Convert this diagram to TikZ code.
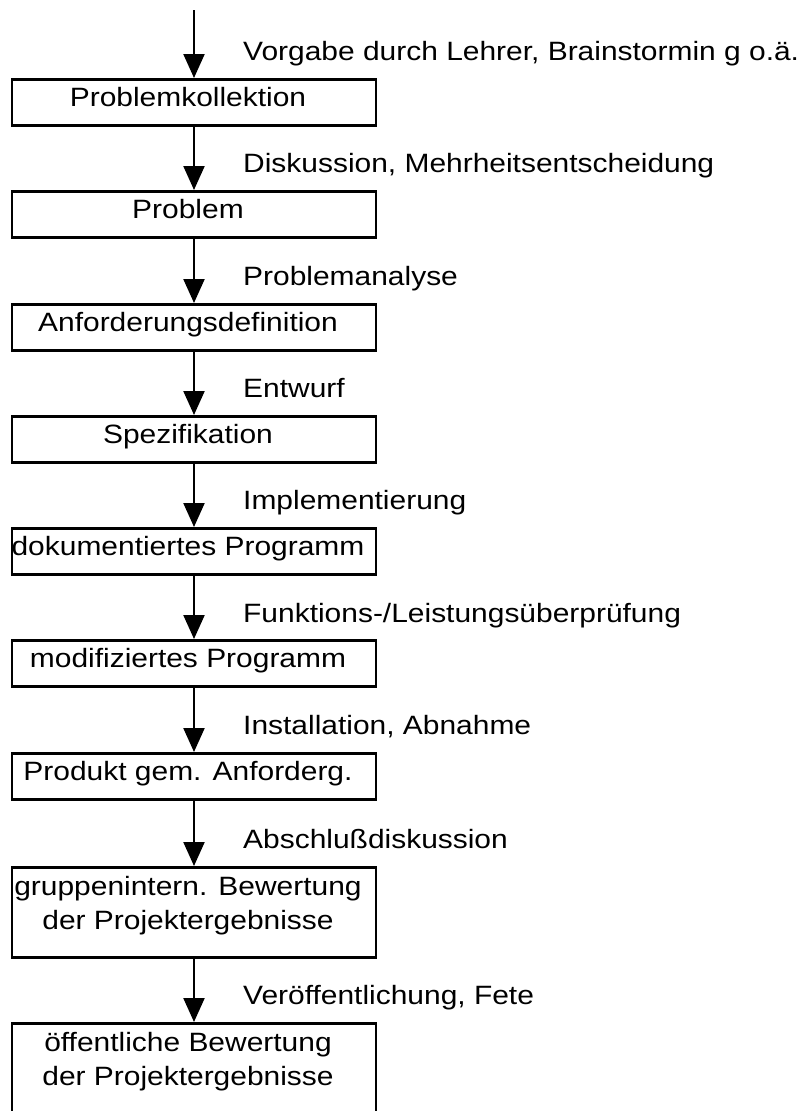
\documentclass[tikz,border=0pt]{standalone}
\usepackage{fontspec}
\setmainfont[FakeStretch=1.13]{Liberation Sans}
\usetikzlibrary{arrows.meta}
\newcommand{\stageline}[1]{\hbox to 364pt{\hss#1\hss\kern12pt}}
\begin{document}
\begin{tikzpicture}[x=1pt,y=-1pt,
  every node/.style={font=\fontsize{26.5}{34}\selectfont},
  stagebox/.style={draw,line width=2.5pt,minimum width=364pt,inner sep=0pt,anchor=north},
  stage/.style={stagebox,text height=27pt,text depth=19pt,
    execute at begin node={\hbox to 364pt\bgroup\hss},
    execute at end node={\hss\kern12pt\egroup}},
  stagetwo/.style={stagebox,align=center,text height=62pt,text depth=28pt},
  flow/.style={-{Triangle[length=24pt,width=21pt]},line width=2.2pt},
  note/.style={anchor=base west,inner sep=0pt}]
\clip (0,0) rectangle (808,1111);
\coordinate (start) at (194,10);
% stages
\node[stage] (kollektion) at (194,78) {Problemkollektion};
\node[stage] (problem) at (194,190) {Problem};
\node[stage] (anforderung) at (194,303) {Anforderungsdefinition};
\node[stage] (spezifikation) at (194,415) {Spezifikation};
\node[stage] (dokprog) at (194,527) {dokumentiertes Programm};
\node[stage] (modprog) at (194,639) {modifiziertes Programm};
\node[stage] (produkt) at (194,752) {Produkt gem. Anforderg.};
\node[stagetwo] (intern) at (194,866)
  {\stageline{gruppenintern. Bewertung}\\\stageline{der Projektergebnisse}};
\node[stagetwo,text depth=50pt] (oeffentlich) at (194,1022)
  {\stageline{öffentliche Bewertung}\\\stageline{der Projektergebnisse}};
%
\draw[flow] (start)--(kollektion.north);
\draw[flow] (kollektion.south)--(problem.north);
\draw[flow] (problem.south)--(anforderung.north);
\draw[flow] (anforderung.south)--(spezifikation.north);
\draw[flow] (spezifikation.south)--(dokprog.north);
\draw[flow] (dokprog.south)--(modprog.north);
\draw[flow] (modprog.south)--(produkt.north);
\draw[flow] (produkt.south)--(intern.north);
\draw[flow] (intern.south)--(oeffentlich.north);
% transitions
\node[note] (vorgabe) at (243,60) {Vorgabe durch Lehrer, Brainstormin g o.ä.};
\node[note] (diskussion) at (243,172) {Diskussion, Mehrheitsentscheidung};
\node[note] (analyse) at (243,285) {Problemanalyse};
\node[note] (entwurf) at (243,397) {Entwurf};
\node[note] (impl) at (243,509) {Implementierung};
\node[note] (pruefung) at (243,622) {Funktions-/Leistungsüberprüfung};
\node[note] (install) at (243,734) {Installation, Abnahme};
\node[note] (abschluss) at (243,848) {Abschlußdiskussion};
\node[note] (fete) at (243,1004) {Veröffentlichung, Fete};
\end{tikzpicture}
\end{document}
